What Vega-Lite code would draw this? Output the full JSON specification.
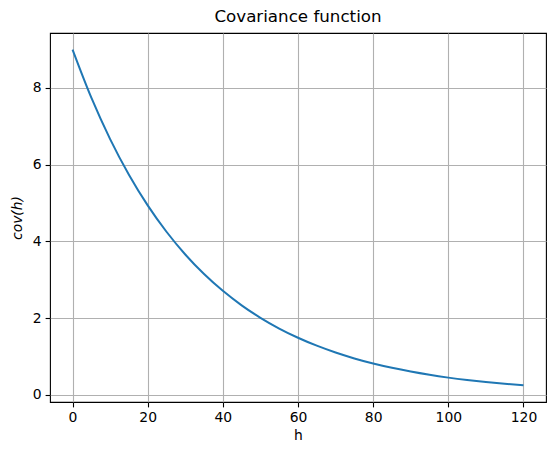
{
  "$schema": "https://vega.github.io/schema/vega-lite/v6.json",
  "width": 496,
  "height": 369,
  "autosize": {"type": "none"},
  "padding": {"left": 50, "top": 33, "right": 10, "bottom": 53},
  "background": "white",
  "title": {"text": "Covariance function", "fontSize": 16.7, "fontWeight": "normal", "font": "DejaVu Sans", "color": "black", "offset": 7},
  "config": {
    "view": {"stroke": "black", "strokeWidth": 1.1},
    "axis": {
      "labelFont": "DejaVu Sans", "labelFontSize": 13.9, "labelColor": "black",
      "titleFont": "DejaVu Sans", "titleFontSize": 13.9, "titleFontWeight": "normal", "titleColor": "black",
      "gridColor": "#b0b0b0", "gridWidth": 1.1, "gridOpacity": 1,
      "tickColor": "black", "tickSize": 4.9, "tickWidth": 1.1,
      "domain": false, "labelPadding": 4
    }
  },
  "data": {"values": [
    {"h": 0, "cov": 9.0},
    {"h": 5, "cov": 7.7464},
    {"h": 10, "cov": 6.6674},
    {"h": 15, "cov": 5.7387},
    {"h": 20, "cov": 4.9393},
    {"h": 25, "cov": 4.2513},
    {"h": 30, "cov": 3.6591},
    {"h": 35, "cov": 3.1494},
    {"h": 40, "cov": 2.7107},
    {"h": 45, "cov": 2.3332},
    {"h": 50, "cov": 2.0082},
    {"h": 55, "cov": 1.7284},
    {"h": 60, "cov": 1.4877},
    {"h": 65, "cov": 1.2805},
    {"h": 70, "cov": 1.1021},
    {"h": 75, "cov": 0.9486},
    {"h": 80, "cov": 0.8165},
    {"h": 85, "cov": 0.7027},
    {"h": 90, "cov": 0.6049},
    {"h": 95, "cov": 0.5206},
    {"h": 100, "cov": 0.4481},
    {"h": 105, "cov": 0.3857},
    {"h": 110, "cov": 0.3319},
    {"h": 115, "cov": 0.2857},
    {"h": 120, "cov": 0.2459}
  ]},
  "mark": {"type": "line", "color": "#1f77b4", "strokeWidth": 2, "interpolate": "monotone", "clip": true},
  "encoding": {
    "x": {"field": "h", "type": "quantitative", "scale": {"domain": [-6, 126], "nice": false, "zero": false},
      "axis": {"title": "h", "values": [0, 20, 40, 60, 80, 100, 120], "titlePadding": 4}},
    "y": {"field": "cov", "type": "quantitative", "scale": {"domain": [-0.1877, 9.4336], "nice": false, "zero": false},
      "axis": {"title": "cov(h)", "titleFontStyle": "italic", "values": [0, 2, 4, 6, 8], "titlePadding": 8}}
  }
}
